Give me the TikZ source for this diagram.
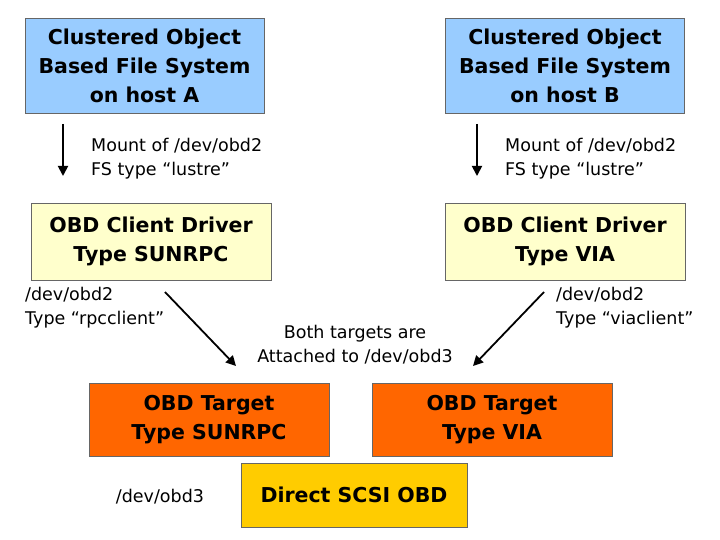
\documentclass[tikz,border=0pt]{standalone}
\usepackage{fontspec}
\setmainfont{DejaVu Sans}
\usetikzlibrary{arrows.meta,positioning}
\definecolor{fsblue}{RGB}{153,204,255}
\definecolor{drvyellow}{RGB}{255,255,204}
\definecolor{tgtorange}{RGB}{255,102,0}
\definecolor{scsiyellow}{RGB}{255,204,0}
\begin{document}
\begin{tikzpicture}[x=1pt,y=-1pt,>={Triangle[length=10pt,width=10pt]}]

   \tikzstyle{box} =[draw=black!60,line width=0.8pt,align=center,inner sep=0pt,
                     font=\fontsize{20.5}{29}\selectfont\bfseries]
   \tikzstyle{fs}  =[box,fill=fsblue,minimum width=239,minimum height=95]
   \tikzstyle{drv} =[box,fill=drvyellow,minimum width=240,minimum height=77]
   \tikzstyle{tgt} =[box,fill=tgtorange,minimum width=240,minimum height=73]
   \tikzstyle{note}=[align=left,inner sep=0pt,font=\fontsize{17.5}{24}\selectfont]
   \tikzstyle{link}=[->,line width=1.8pt]

   \useasboundingbox (0,0) rectangle (720,540);

   % file systems
   \node[fs] (fsA) at (144.5,65.5) {Clustered Object\\Based File System\\on host A};
   \node[fs] (fsB) at (565,65.5) {Clustered Object\\Based File System\\on host B};

   % client drivers
   \node[drv] (drvA) at (151,241.5) {OBD Client Driver\\Type SUNRPC};
   \node[drv] (drvB) at (565,241.5) {OBD Client Driver\\Type VIA};

   % targets
   \node[tgt] (tgtA) at (209,419.5) {OBD Target\\Type SUNRPC};
   \node[tgt] (tgtB) at (492,419.5) {OBD Target\\Type VIA};
   \node[box,fill=scsiyellow,minimum width=226,minimum height=64] (scsi) at (354,495) {Direct SCSI OBD};

   % labels
   \node[note,anchor=west] (mntA) at (91,159) {Mount of /dev/obd2\\FS type “lustre”};
   \node[note,anchor=west] (mntB) at (505,159) {Mount of /dev/obd2\\FS type “lustre”};
   \node[note,anchor=west] (devA) at (25,308) {/dev/obd2\\Type “rpcclient”};
   \node[note,anchor=west] (devB) at (556,308) {/dev/obd2\\Type “viaclient”};
   \node[note,align=center] (both) at (355,345) {Both targets are\\Attached to /dev/obd3};
   \node[note] (obd3) at (160,497) {/dev/obd3};

   % arrows
   \coordinate (a1) at (63,124);  \coordinate (a2) at (63,176);
   \coordinate (b1) at (477,124); \coordinate (b2) at (477,176);
   \coordinate (c1) at (165,292); \coordinate (c2) at (236,366);
   \coordinate (d1) at (544,292); \coordinate (d2) at (473,366);
   \draw[link] (a1) -- (a2);
   \draw[link] (b1) -- (b2);
   \draw[link] (c1) -- (c2);
   \draw[link] (d1) -- (d2);

\end{tikzpicture}
\end{document}
